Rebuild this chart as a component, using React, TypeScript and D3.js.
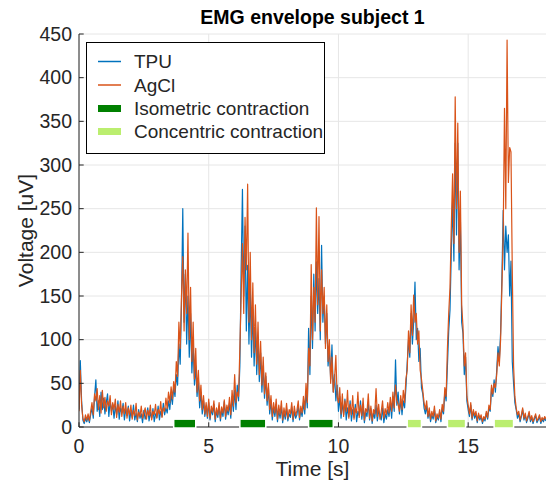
import React from 'react';
import * as d3 from 'd3';

// sampled every 0.05 s, from 0 to 18 s
const dt = 0.05;

const tpu = [
  20, 76, 30, 8, 4, 10, 6, 12, 5, 14, 22, 10, 35, 54, 18, 30, 12, 40, 20, 33,
  15, 28, 38, 12, 30, 18, 26, 10, 24, 14, 30, 9, 22, 16, 27, 8, 20, 13, 24, 7,
  18, 11, 25, 8, 16, 6, 20, 10, 15, 5, 19, 9, 14, 22, 7, 17, 10, 21, 6, 15,
  11, 24, 8, 18, 12, 27, 14, 22, 16, 30, 20, 38, 26, 45, 35, 60, 48, 95, 72, 140,
  250, 120, 175, 95, 150, 80, 130, 62, 95, 48, 70, 35, 55, 22, 40, 15, 30, 12, 24, 10,
  28, 8, 20, 14, 26, 6, 18, 11, 24, 7, 19, 12, 29, 9, 21, 14, 27, 10, 35, 18,
  42, 20, 48, 30, 70, 180, 272, 150, 230, 110, 185, 95, 160, 80, 135, 70, 115, 60, 100, 52,
  85, 40, 70, 33, 58, 25, 45, 15, 30, 8, 22, 12, 26, 6, 19, 10, 24, 5, 17, 9,
  21, 7, 15, 11, 23, 6, 18, 10, 14, 25, 8, 19, 12, 28, 15, 40, 22, 113, 60, 150,
  90, 175, 110, 189, 130, 170, 100, 208, 120, 150, 95, 130, 70, 90, 55, 94, 40, 60, 30, 48,
  18, 35, 10, 28, 14, 32, 8, 22, 12, 30, 7, 20, 11, 26, 6, 18, 13, 30, 9, 24,
  5, 17, 12, 28, 8, 21, 4, 16, 10, 25, 7, 19, 13, 8, 22, 5, 15, 9, 20, 12,
  28, 10, 35, 18, 77, 25, 40, 15, 32, 14, 30, 22, 45, 73, 100, 80, 130, 95, 120, 166,
  100, 113, 75, 90, 45, 38, 22, 15, 24, 10, 18, 6, 14, 9, 20, 5, 12, 8, 17, 6,
  22, 15, 40, 30, 70, 110, 134, 200, 260, 190, 325, 220, 325, 180, 240, 120, 107, 60, 80, 30,
  20, 12, 25, 8, 18, 10, 15, 5, 14, 8, 12, 4, 10, 7, 16, 9, 22, 18, 45, 35,
  54, 40, 65, 92, 75, 108, 170, 248, 180, 230, 200, 220, 150, 190, 75, 50, 28, 20, 10, 15,
  6, 12, 20, 8, 14, 5, 10, 16, 6, 11, 4, 9, 13, 5, 8, 12, 4, 9, 6, 10,
  7,
];

const agcl = [
  18, 65, 25, 10, 6, 14, 8, 15, 7, 18, 28, 14, 38, 30, 44, 20, 36, 16, 42, 22,
  34, 18, 30, 24, 36, 14, 28, 20, 32, 11, 26, 17, 30, 12, 24, 15, 28, 10, 22, 14,
  25, 9, 19, 13, 27, 8, 17, 12, 24, 10, 16, 22, 9, 19, 13, 25, 8, 18, 14, 26,
  10, 20, 15, 29, 11, 22, 18, 33, 21, 40, 28, 46, 32, 52, 40, 75, 58, 120, 90, 150,
  195, 110, 180, 130, 222, 100, 160, 75, 120, 55, 90, 40, 65, 30, 48, 20, 36, 15, 28, 12,
  32, 10, 24, 17, 30, 9, 22, 14, 28, 10, 23, 16, 31, 12, 25, 18, 34, 14, 42, 24,
  60, 28, 40, 35, 90, 150, 210, 130, 240, 180, 278, 120, 200, 100, 165, 85, 140, 72, 120, 60,
  98, 48, 80, 38, 62, 30, 50, 20, 36, 12, 28, 16, 32, 9, 25, 14, 30, 8, 22, 12,
  27, 10, 20, 15, 28, 9, 24, 13, 19, 30, 11, 24, 16, 35, 20, 50, 28, 90, 70, 186,
  100, 160, 120, 251, 140, 241, 110, 180, 130, 160, 90, 140, 75, 100, 50, 80, 40, 55, 82, 35,
  28, 45, 15, 38, 12, 30, 18, 42, 10, 26, 14, 36, 9, 22, 16, 40, 11, 25, 13, 33,
  8, 21, 17, 38, 10, 24, 7, 20, 15, 44, 12, 26, 9, 18, 30, 10, 21, 14, 28, 16,
  34, 18, 40, 22, 48, 30, 26, 18, 36, 20, 42, 28, 55, 65, 110, 85, 140, 105, 151, 120,
  130, 95, 110, 65, 55, 42, 28, 20, 30, 12, 22, 9, 18, 12, 24, 7, 15, 10, 20, 9,
  26, 18, 45, 35, 90, 130, 160, 230, 290, 210, 378, 250, 348, 200, 270, 140, 115, 70, 85, 35,
  25, 15, 28, 10, 20, 13, 18, 7, 16, 10, 14, 6, 12, 9, 18, 11, 25, 20, 48, 38,
  50, 45, 60, 85, 70, 100, 160, 220, 365, 250, 443, 280, 320, 315, 180, 70, 35, 22, 14, 18,
  8, 14, 22, 10, 16, 7, 12, 18, 8, 13, 6, 11, 15, 7, 10, 14, 6, 11, 8, 12,
  9,
];

// contraction periods [start, end] in seconds
const isometric = [[3.65, 4.5], [6.2, 7.2], [8.85, 9.8]];
const concentric = [[12.65, 13.2], [14.2, 14.9], [16.0, 16.75]];

const xTicks = [0, 5, 10, 15];
const yTicks = [0, 50, 100, 150, 200, 250, 300, 350, 400, 450];

const W = 553;
const H = 481;
const FONT = '"Liberation Sans", Arial, Helvetica, sans-serif';
const INK = '#262626';
const BLUE = '#0072BD';
const ORANGE = '#D95319';
const DARKGREEN = '#008000';
const LIGHTGREEN = '#BBEE6F';

export default function App() {
  const x = d3.scaleLinear().domain([0, 18]).range([79, 546]);
  const y = d3.scaleLinear().domain([0, 450]).range([427, 34]);

  const line = d3.line<number>()
    .x((_, i) => x(i * dt))
    .y((d) => y(d));

  const barTop = y(9);
  const barBot = y(0) + 1;

  return (
    <svg width={W} height={H} style={{ position: 'absolute', left: 0, top: 0, background: '#fff' }}
      fontFamily={FONT}>
      <defs>
        <clipPath id="plotClip">
          <rect x={x(0)} y={y(450)} width={x(18) - x(0)} height={y(0) - y(450)} />
        </clipPath>
      </defs>

      {/* grid */}
      {yTicks.map((t) => (
        <line key={'gy' + t} x1={x(0)} x2={x(18)} y1={y(t)} y2={y(t)} stroke="#e6e6e6" />
      ))}
      {xTicks.map((t) => (
        <line key={'gx' + t} x1={x(t)} x2={x(t)} y1={y(0)} y2={y(450)} stroke="#e6e6e6" />
      ))}

      {/* signals */}
      <g clipPath="url(#plotClip)" fill="none" strokeLinejoin="round">
        <path d={line(tpu) || ''} stroke={BLUE} strokeWidth={1.2} />
        <path d={line(agcl) || ''} stroke={ORANGE} strokeWidth={1.2} />
      </g>

      {/* axes */}
      <line x1={x(0)} x2={x(0)} y1={y(0)} y2={y(450)} stroke={INK} />
      <line x1={x(0)} x2={x(18)} y1={y(0)} y2={y(0)} stroke={INK} />
      {yTicks.map((t) => (
        <g key={'ty' + t}>
          <line x1={x(0)} x2={x(0) + 4.7} y1={y(t)} y2={y(t)} stroke={INK} />
          <text x={x(0) - 7} y={y(t)} dy="0.35em" textAnchor="end" fontSize={19.5} fill={INK}>{t}</text>
        </g>
      ))}
      {xTicks.map((t) => (
        <g key={'tx' + t}>
          <line x1={x(t)} x2={x(t)} y1={y(0)} y2={y(0) - 4.7} stroke={INK} />
          <text x={x(t)} y={453} textAnchor="middle" fontSize={19.5} fill={INK}>{t}</text>
        </g>
      ))}

      {/* contraction bars */}
      {isometric.map(([a, b], i) => (
        <rect key={'iso' + i} x={x(a)} y={barTop} width={x(b) - x(a)} height={barBot - barTop}
          fill={DARKGREEN} stroke="#fff" strokeWidth={1.5} />
      ))}
      {concentric.map(([a, b], i) => (
        <rect key={'con' + i} x={x(a)} y={barTop} width={x(b) - x(a)} height={barBot - barTop}
          fill={LIGHTGREEN} stroke="#fff" strokeWidth={1.5} />
      ))}

      {/* labels */}
      <text x={312.5} y={24} textAnchor="middle" fontSize={19.5} fontWeight="bold" fill="#000">
        EMG envelope subject 1
      </text>
      <text x={312.5} y={476} textAnchor="middle" fontSize={21} fill={INK}>Time [s]</text>
      <text transform="translate(33,230.5) rotate(-90)" textAnchor="middle" fontSize={21} fill={INK}>
        Voltage [uV]
      </text>

      {/* legend */}
      <g>
        <rect x={86.5} y={42.5} width={238} height={111} fill="#fff" stroke="#000" strokeWidth={1} />
        <line x1={98} x2={121} y1={61.5} y2={61.5} stroke={BLUE} strokeWidth={1.5} />
        <line x1={98} x2={121} y1={85} y2={85} stroke={ORANGE} strokeWidth={1.5} />
        <rect x={98} y={105} width={23} height={7} fill={DARKGREEN} />
        <rect x={98} y={128} width={23} height={7} fill={LIGHTGREEN} />
        <text x={134} y={61.5} dy="0.35em" fontSize={19} fill={INK}>TPU</text>
        <text x={134} y={85} dy="0.35em" fontSize={19} fill={INK}>AgCl</text>
        <text x={134} y={108.5} dy="0.35em" fontSize={19} fill={INK}>Isometric contraction</text>
        <text x={134} y={131.5} dy="0.35em" fontSize={19} fill={INK}>Concentric contraction</text>
      </g>
    </svg>
  );
}
